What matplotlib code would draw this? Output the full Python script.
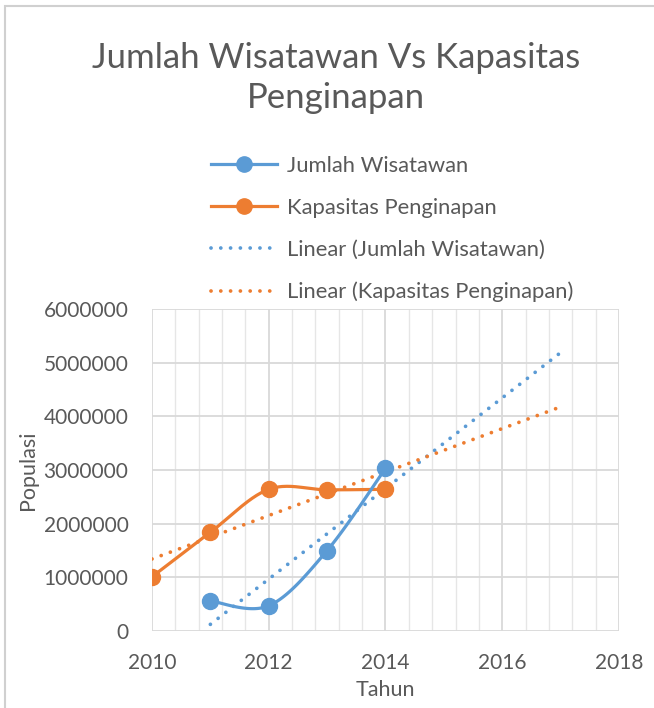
import numpy as np
import matplotlib
matplotlib.use("Agg")
import matplotlib.pyplot as plt
from matplotlib.lines import Line2D
from matplotlib.patches import Rectangle

plt.rcParams['font.family'] = ['Lato', 'DejaVu Sans']

# data
tahun_wisatawan = [2011, 2012, 2013, 2014]
wisatawan = [560000, 470000, 1500000, 3030000]
tahun_kapasitas = [2010, 2011, 2012, 2013, 2014]
kapasitas = [1010000, 1840000, 2640000, 2630000, 2640000]
forecast_end = 2017

blue = '#5B9BD5'
orange = '#ED7D31'
grey_text = '#595959'
grid_col = '#D9D9D9'


def smooth(xs, ys, sx, sy, n=40):
    # excel-like smoothed line (bezier through the points), done in pixel space
    P = np.column_stack([np.array(xs, float) * sx, np.array(ys, float) * sy])
    out = []
    for i in range(len(P) - 1):
        p0 = P[max(i - 1, 0)]
        p1 = P[i]
        p2 = P[i + 1]
        p3 = P[min(i + 2, len(P) - 1)]
        c1 = p1 + (p2 - p0) / 6
        c2 = p2 - (p3 - p1) / 6
        t = np.linspace(0, 1, n)[:, None]
        seg = (1 - t)**3 * p1 + 3 * (1 - t)**2 * t * c1 + 3 * (1 - t) * t**2 * c2 + t**3 * p2
        out.append(seg if i == 0 else seg[1:])
    pts = np.vstack(out)
    return pts[:, 0] / sx, pts[:, 1] / sy


fig = plt.figure(figsize=(6.54, 7.08), dpi=100)
ax = fig.add_axes([152 / 654, 1 - 631 / 708, 467 / 654, 322 / 708])

sx = 467 / 8
sy = 322 / 6e6

# trend lines (linear fit, forecast forward)
dots = (0, (0.01, 2.6))
for xs, ys, c in [(tahun_wisatawan, wisatawan, blue), (tahun_kapasitas, kapasitas, orange)]:
    m, b = np.polyfit(xs, ys, 1)
    tx = np.array([xs[0], forecast_end])
    ax.plot(tx, m * tx + b, color=c, lw=2.7, linestyle=dots, dash_capstyle='round', zorder=2)

for xs, ys, c in [(tahun_kapasitas, kapasitas, orange), (tahun_wisatawan, wisatawan, blue)]:
    cx, cy = smooth(xs, ys, sx, sy)
    ax.plot(cx, cy, color=c, lw=2.3, solid_capstyle='round', zorder=3)
    ax.plot(xs, ys, 'o', color=c, markersize=11.5, zorder=4)

ax.set_xlim(2010, 2018)
ax.set_ylim(0, 6000000)
ax.set_xticks([2010, 2012, 2014, 2016, 2018])
ax.set_xticks(np.arange(2010, 2018.01, 0.4), minor=True)
ax.set_yticks(np.arange(0, 6000001, 1000000))
ax.set_yticklabels([str(v) for v in range(0, 6000001, 1000000)])
ax.grid(True, which='major', color=grid_col, lw=1.3)
ax.grid(True, which='minor', axis='x', color='#E6E6E6', lw=1.0)
ax.set_axisbelow(True)
for s in ax.spines.values():
    s.set_visible(False)
ax.tick_params(which='both', length=0, colors=grey_text, labelsize=15)
ax.tick_params(axis='y', pad=17)
ax.tick_params(axis='x', pad=16)

ax.set_xlabel('Tahun', fontsize=15.5, color=grey_text, labelpad=5)
ax.set_ylabel('Populasi', fontsize=15.5, color=grey_text, labelpad=4)

fig.text(336 / 654, 1 - 78 / 708, 'Jumlah Wisatawan Vs Kapasitas\nPenginapan',
         ha='center', va='center', fontsize=25, color=grey_text, linespacing=1.3)

handles = [
    Line2D([], [], color=blue, lw=2.3, marker='o', markersize=11),
    Line2D([], [], color=orange, lw=2.3, marker='o', markersize=11),
    Line2D([], [], color=blue, lw=2.7, linestyle=dots, dash_capstyle='round'),
    Line2D([], [], color=orange, lw=2.7, linestyle=dots, dash_capstyle='round'),
]
labels = ['Jumlah Wisatawan', 'Kapasitas Penginapan',
          'Linear (Jumlah Wisatawan)', 'Linear (Kapasitas Penginapan)']
leg = fig.legend(handles, labels, loc='upper left', bbox_to_anchor=(211 / 654, 1 - 156 / 708),
                 frameon=False, fontsize=15.8, handlelength=3.0, handletextpad=0.45,
                 labelspacing=1.0, borderpad=0, borderaxespad=0)
for t in leg.get_texts():
    t.set_color(grey_text)

# chart frame
fig.patches.append(Rectangle((5 / 654, -0.05), 1.2, 1 - 6 / 708 + 0.05,
                             transform=fig.transFigure, fill=False,
                             edgecolor='#D0D0D0', lw=1.5))

fig.savefig('out.png', dpi=100)
